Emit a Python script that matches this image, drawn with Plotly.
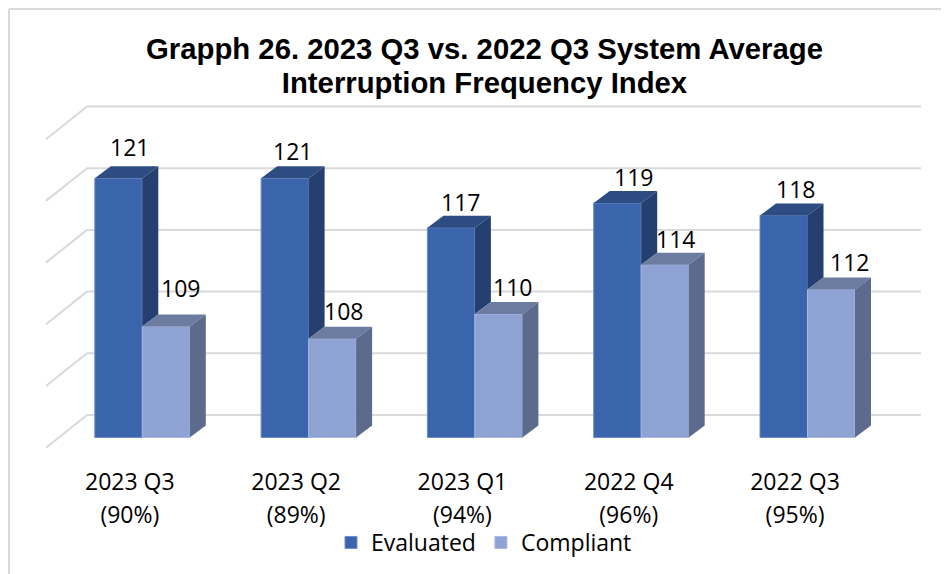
import plotly.graph_objects as go

quarters = ["2023 Q3", "2023 Q2", "2023 Q1", "2022 Q4", "2022 Q3"]
percent = ["(90%)", "(89%)", "(94%)", "(96%)", "(95%)"]
evaluated = [121, 121, 117, 119, 118]
compliant = [109, 108, 110, 114, 112]
grid_values = [100, 105, 110, 115, 120, 125]
title_lines = ["Grapph 26. 2023 Q3 vs. 2022 Q3 System Average", "Interruption Frequency Index"]

# label nudges (pixels) relative to the top-centre of each bar's front face
eval_dx = [11, 8, 9, 16, 12]
eval_dy = [31, 27, 26, 26, 26]
comp_dx = [14, 11, 14, 11, 18]
comp_dy = [38, 28, 27, 26, 27]

W, H = 949, 574
PAGE = 8                # the page's own body margin
PLOT_BOTTOM = 455       # pixel row of the axis line
PX_PER_GROUP = 166.3
PX_PER_UNIT = 12.34
X0_PX = 142.3           # pixel of the first group's centre
BASE_PX = 437.5         # pixel of the value 100 on the bars' front plane
BASE_VAL = 100
fig_w, fig_h = W - PAGE, H - PAGE
plot_h = PLOT_BOTTOM - PAGE
bottom_margin = fig_h - plot_h

def xpx(p):
    return (p - X0_PX) / PX_PER_GROUP

def paper_x(p):
    return (p - PAGE) / fig_w

def paper_y(p):
    return (PLOT_BOTTOM - p) / plot_h

xrange_ = [xpx(PAGE), xpx(W)]
yrange = [BASE_VAL - (PLOT_BOTTOM - BASE_PX) / PX_PER_UNIT, BASE_VAL + (BASE_PX - PAGE) / PX_PER_UNIT]

BAR_W = 47.5 / PX_PER_GROUP
DX = 16 / PX_PER_GROUP      # bar depth, sideways
DV = 12 / PX_PER_UNIT       # bar depth, upwards
FONT = "Open Sans"
GRID = "#d9d9d9"

fig = go.Figure()
idx = list(range(len(quarters)))

fig.add_bar(x=idx, y=[v - BASE_VAL for v in evaluated], base=BASE_VAL, name="Evaluated",
            marker=dict(color="#3a64ac", line=dict(color="#6f8cc6", width=1)))
fig.add_bar(x=idx, y=[v - BASE_VAL for v in compliant], base=BASE_VAL, name="Compliant",
            marker=dict(color="#8fa2d4", line=dict(color="#a9b8de", width=1)))

def face(xs, ys, color):
    fig.add_trace(go.Scatter(x=xs, y=ys, mode="lines", fill="toself", fillcolor=color,
                             line=dict(width=0, color=color), showlegend=False, hoverinfo="skip"))

for i, e, c in zip(idx, evaluated, compliant):
    l, m, r = i - BAR_W, i, i + BAR_W
    # Evaluated: top, then only the part of the side not hidden by Compliant
    face([l, m, m + DX, l + DX, l], [e, e, e + DV, e + DV, e], "#2d4c82")
    face([m, m + DX, m + DX, m, m], [e, e + DV, c + DV, c, e], "#243f70")
    # Compliant: top and side
    face([m, r, r + DX, m + DX, m], [c, c, c + DV, c + DV, c], "#6c7ba0")
    face([r, r + DX, r + DX, r, r], [c, c + DV, BASE_VAL + DV, BASE_VAL, c], "#5c6a8c")

shapes = []
x_front, x_back, x_right = xpx(46), xpx(87), xpx(921)
v_front, v_back = -10.2 / PX_PER_UNIT, 22.5 / PX_PER_UNIT
for v in grid_values:
    for x0, y0, x1, y1 in [(x_front, v + v_front, x_back, v + v_back),
                           (x_back, v + v_back, x_right, v + v_back)]:
        shapes.append(dict(type="line", xref="x", yref="y", x0=x0, y0=y0, x1=x1, y1=y1,
                           layer="below", line=dict(color=GRID, width=2)))
# outer chart border: left and top edges only
shapes.append(dict(type="line", xref="paper", yref="paper", x0=paper_x(9), x1=paper_x(9),
                   y0=paper_y(9), y1=paper_y(H), layer="below", line=dict(color=GRID, width=2)))
shapes.append(dict(type="line", xref="paper", yref="paper", x0=paper_x(9), x1=1,
                   y0=paper_y(9), y1=paper_y(9), layer="below", line=dict(color=GRID, width=2)))

annotations = []
for i in idx:
    for v, dx, dy, side in [(evaluated[i], eval_dx[i], eval_dy[i], -BAR_W / 2),
                            (compliant[i], comp_dx[i], comp_dy[i], BAR_W / 2)]:
        annotations.append(dict(x=i + side, y=v, xref="x", yref="y", text=str(v), showarrow=False,
                                xshift=dx, yshift=dy, xanchor="center", yanchor="middle",
                                font=dict(family=FONT, size=23, color="black")))

ticktext = [f"<span style='font-size:23px'>{q}</span><br><span style='font-size:23px'>{p}</span>"
            for q, p in zip(quarters, percent)]
title_text = "<br>".join(f"<span style='font-size:29.3px'><b>{t}</b></span>" for t in title_lines)

fig.update_layout(
    width=fig_w, height=fig_h, autosize=False,
    margin=dict(l=0, r=0, t=0, b=bottom_margin, pad=0),
    paper_bgcolor="white", plot_bgcolor="rgba(0,0,0,0)",
    barmode="group", bargap=1 - 2 * BAR_W, bargroupgap=0,
    title=dict(text=title_text, x=paper_x(484.5), xanchor="center", y=1 - (59 - PAGE) / fig_h, yanchor="top",
               font=dict(family="Liberation Sans", size=26.5, color="black")),
    xaxis=dict(range=xrange_, tickmode="array", tickvals=[i - 0.075 for i in idx], ticktext=ticktext,
               tickfont=dict(family=FONT, size=25, color="black"), tickangle=0,
               showgrid=False, zeroline=False, showline=False,
               ticks="outside", ticklen=4, tickcolor="rgba(0,0,0,0)", automargin=False),
    yaxis=dict(range=yrange, visible=False),
    legend=dict(orientation="h", x=paper_x(331), xanchor="left", y=paper_y(521), yanchor="top",
                font=dict(family=FONT, size=23, color="black"), itemclick=False,
                bgcolor="rgba(0,0,0,0)"),
    shapes=shapes, annotations=annotations,
)
fig.write_html("out.html")
